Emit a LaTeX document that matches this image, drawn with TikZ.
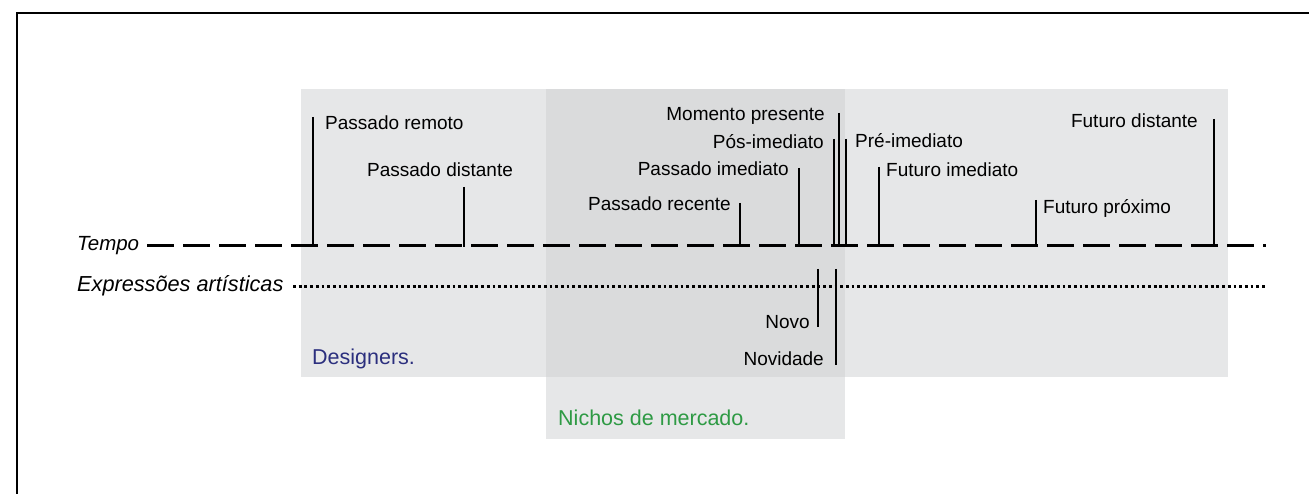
\documentclass[tikz,border=0pt]{standalone}
\usepackage{fontspec}
\setmainfont{Liberation Sans}
\definecolor{lightbox}{HTML}{E6E7E8}
\definecolor{overlapbox}{HTML}{DADBDC}
\definecolor{designblue}{HTML}{2B2F7E}
\definecolor{nichegreen}{HTML}{2E9A44}
\begin{document}
\begin{tikzpicture}[x=1pt,y=-1pt,
  lbl/.style={inner sep=0pt,font=\fontsize{19}{22}\selectfont},
  axislbl/.style={inner sep=0pt,font=\fontsize{20.5}{24}\selectfont\itshape},
  grouplbl/.style={inner sep=0pt,font=\fontsize{21.5}{25}\selectfont},
  tick/.style={line width=2pt},
  timeline/.style={line width=3pt,dash pattern=on 27pt off 9pt},
  artline/.style={line width=3pt,dash pattern=on 2.8pt off 2.9pt},
  frameline/.style={line width=2pt}]
\useasboundingbox (0,0) rectangle (1309,494);
\fill[white] (0,0) rectangle (1309,494);
% frame
\draw[frameline] (1309,13) -- (17,13) -- (17,494);
% background boxes
\fill[lightbox] (301,89) rectangle (1228,377);
\fill[lightbox] (546,377) rectangle (845,439);
\fill[overlapbox] (546,89) rectangle (845,377);
% axis labels
\node[axislbl,anchor=base west] (tempo) at (77,251) {Tempo};
\node[axislbl,anchor=base west,font=\fontsize{21.7}{25}\selectfont\itshape] (expr) at (77,291) {Expressões artísticas};
% lines
\coordinate (tS) at (147,246);
\coordinate (tE) at (1266,246);
\draw[timeline] (tS) -- (tE);
\coordinate (aS) at (293,287);
\coordinate (aE) at (1267,287);
\draw[artline] (aS) -- (aE);
% time labels
\node[lbl,anchor=base west] (premoto) at (325,130) {Passado remoto};
\node[lbl,anchor=base] (pdistante) at (440,177) {Passado distante};
\node[lbl,anchor=base east] (precente) at (731,211) {Passado recente};
\node[lbl,anchor=base east] (pimediato) at (789,176) {Passado imediato};
\node[lbl,anchor=base east] (posimed) at (824,149) {Pós-imediato};
\node[lbl,anchor=base east] (momento) at (825,121) {Momento presente};
\node[lbl,anchor=base west] (preimed) at (855,148) {Pré-imediato};
\node[lbl,anchor=base west] (fimediato) at (886,177) {Futuro imediato};
\node[lbl,anchor=base west] (fproximo) at (1043,214) {Futuro próximo};
\node[lbl,anchor=base east] (fdistante) at (1198,128) {Futuro distante};
% ticks
\foreach \n/\x/\y in {remoto/313/117, distante/464/187, recente/740/203,
  imediato/799/168, pos/834/139, momento/839/113, pre/846/139,
  fimed/879/167, fprox/1036/200, fdist/1214/119}{
  \coordinate (top\n) at (\x,\y);
  \coordinate (bot\n) at (\x,247);
  \draw[tick] (top\n) -- (bot\n);
}
% artistic expressions
\node[lbl,anchor=base east] (novo) at (810,328) {Novo};
\node[lbl,anchor=base east] (novidade) at (824,365) {Novidade};
\coordinate (novoT) at (818,269);
\coordinate (novoB) at (818,327);
\coordinate (novidT) at (836,269);
\coordinate (novidB) at (836,365);
\draw[tick] (novoT) -- (novoB);
\draw[tick] (novidT) -- (novidB);
% group labels
\node[grouplbl,anchor=base west,text=designblue] (designers) at (312,364) {Designers.};
\node[grouplbl,anchor=base west,text=nichegreen] (nichos) at (558,425) {Nichos de mercado.};
\end{tikzpicture}
\end{document}
